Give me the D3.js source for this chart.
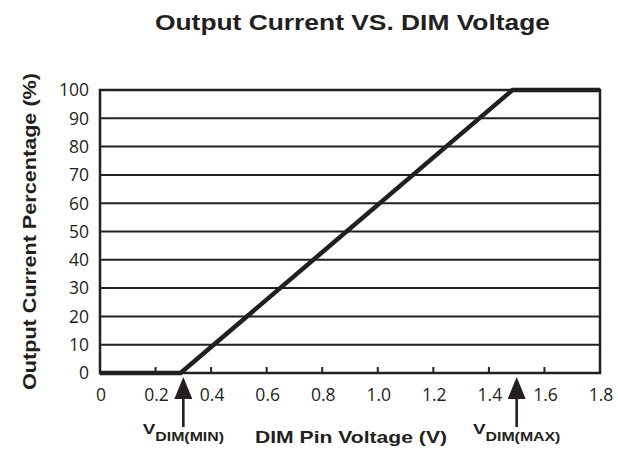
<!DOCTYPE html>
<html>
<head>
<meta charset="utf-8">
<script src="https://cdn.jsdelivr.net/npm/d3@7"></script>
<style>
  body { margin: 0; background: #fff; }
  .tick-lbl { font-family: "Open Sans", sans-serif; font-size: 17.5px; fill: #231f20; }
  .bold { font-family: "Liberation Sans", Arial, sans-serif; font-weight: bold; fill: #231f20; }
</style>
</head>
<body>
<div id="chart"></div>
<script>
// data
let voltage = [0, 0.29, 1.485, 1.8];
let current = [0, 0, 100, 100];
let xTicks = [0, 0.2, 0.4, 0.6, 0.8, 1.0, 1.2, 1.4, 1.6, 1.8];
let xTickLabels = ["0", "0.2", "0.4", "0.6", "0.8", "1.0", "1.2", "1.4", "1.6", "1.8"];
let yTicks = [0, 10, 20, 30, 40, 50, 60, 70, 80, 90, 100];
let markers = [
    {v: 0.3, name: "DIM(MIN)"},
    {v: 1.5, name: "DIM(MAX)"}
];

let margin = {top: 90, right: 18, bottom: 77, left: 100};
let width = 618 - margin.left - margin.right,
    height = 450 - margin.top - margin.bottom;
let ink = "#231f20";

let svg = d3.select("#chart").append("svg")
    .attr("width", 618)
    .attr("height", 450);

let g = svg.append("g")
    .attr("transform", "translate(" + margin.left + "," + margin.top + ")");

let x = d3.scaleLinear().domain([0, 1.8]).range([0, width]);
let y = d3.scaleLinear().domain([0, 100]).range([height, 0]);

// title (the original font is wider than Arial, so stretch it to length)
svg.append("text")
    .attr("class", "bold")
    .attr("x", 352.5).attr("y", 30)
    .attr("text-anchor", "middle")
    .attr("textLength", 395)
    .attr("lengthAdjust", "spacingAndGlyphs")
    .style("font-size", "22.5px")
    .text("Output Current VS. DIM Voltage");

// horizontal grid lines
g.selectAll(".grid")
    .data(yTicks.slice(1))
    .enter().append("line")
    .attr("x1", 0).attr("x2", width)
    .attr("y1", d => y(d)).attr("y2", d => y(d))
    .style("stroke", ink)
    .style("stroke-width", 2);

// x ticks (pointing up, inside)
g.selectAll(".xtick")
    .data(xTicks.slice(1, -1))
    .enter().append("line")
    .attr("x1", d => x(d)).attr("x2", d => x(d))
    .attr("y1", height).attr("y2", height - 6)
    .style("stroke", ink)
    .style("stroke-width", 2);

// frame
g.append("rect")
    .attr("width", width).attr("height", height)
    .style("fill", "none")
    .style("stroke", ink)
    .style("stroke-width", 2.5);

// y tick labels
g.selectAll(".ylbl")
    .data(yTicks)
    .enter().append("text")
    .attr("class", "tick-lbl")
    .attr("x", -11)
    .attr("y", d => y(d))
    .attr("dy", "0.36em")
    .attr("text-anchor", "end")
    .text(d => d);

// x tick labels
g.selectAll(".xlbl")
    .data(xTicks)
    .enter().append("text")
    .attr("class", "tick-lbl")
    .attr("x", d => x(d) + 1)
    .attr("y", height + 28)
    .attr("text-anchor", "middle")
    .text((d, i) => xTickLabels[i]);

// the curve
let line = d3.line()
    .x((d, i) => x(voltage[i]))
    .y((d, i) => y(current[i]));

g.append("path")
    .datum(voltage)
    .attr("d", line)
    .style("fill", "none")
    .style("stroke", ink)
    .style("stroke-width", 4.5)
    .style("stroke-linejoin", "miter");

// arrows for V_DIM(MIN) / V_DIM(MAX)
let arrow = g.selectAll(".marker")
    .data(markers)
    .enter().append("g")
    .attr("transform", d => "translate(" + x(d.v) + "," + (height + 4) + ")");

arrow.append("path")
    .attr("d", "M0,0 L-9,22 L9,22 Z")
    .style("fill", ink);

arrow.append("line")
    .attr("x1", 0).attr("x2", 0)
    .attr("y1", 18).attr("y2", 50)
    .style("stroke", ink)
    .style("stroke-width", 2.6);

let lbl = arrow.append("text")
    .attr("class", "bold")
    .attr("transform", "translate(0,57) scale(1.22,1)")
    .attr("text-anchor", "middle");

lbl.append("tspan")
    .style("font-size", "15.5px")
    .text("V");
lbl.append("tspan")
    .attr("dy", 7)
    .style("font-size", "13px")
    .text(d => d.name);

// axis titles
svg.append("text")
    .attr("class", "bold")
    .attr("x", 351).attr("y", 443)
    .attr("text-anchor", "middle")
    .attr("textLength", 192)
    .attr("lengthAdjust", "spacingAndGlyphs")
    .style("font-size", "16.5px")
    .text("DIM Pin Voltage (V)");

svg.append("text")
    .attr("class", "bold")
    .attr("transform", "translate(36,231.5) rotate(-90)")
    .attr("text-anchor", "middle")
    .attr("textLength", 317)
    .attr("lengthAdjust", "spacingAndGlyphs")
    .style("font-size", "18px")
    .text("Output Current Percentage (%)");
</script>
</body>
</html>
